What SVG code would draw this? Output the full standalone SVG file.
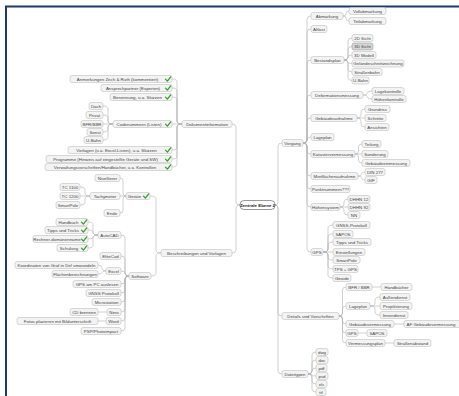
<svg xmlns="http://www.w3.org/2000/svg" xmlns:xlink="http://www.w3.org/1999/xlink" width="459" height="396" viewBox="0 0 459 396">
<style>
rect{fill:#f3f3f3;stroke:#b4b4b4;stroke-width:.5}
rect.hl{fill:#d6d6d6;stroke:#8a8a8a}
rect.c{fill:#fff;stroke:#6e6e6e;stroke-width:.7}
text{font-family:"Liberation Sans",Arial,sans-serif;font-size:4.4px;fill:#444;text-anchor:middle}
text.c{font-weight:bold;fill:#222}
#links path{fill:none;stroke:#b2b2b2;stroke-width:.6}
</style>
<defs>
<path id="ck" d="M0,2.6 L1.9,4.6 L5.2,0.4" fill="none" stroke="#3d9b2f" stroke-width="1.3" stroke-linecap="round" stroke-linejoin="round"/>
</defs>
<rect x="0" y="0" width="459" height="396" style="fill:#fff;stroke:none"/>
<g id="frame"><path d="M5,6.5 H459 M6,5.5 V396" stroke="#1f3a68" stroke-width="2" fill="none"/></g>
<g id="links">
<path d="M240,205 Q236,205 236,202 V127 Q236,124 232,124 M240,205 Q236,205 236,208 V250 Q236,253 232,253"/>
<path d="M275,205 Q278,205 278,202 V146 Q278,143 282,143 M275,205 Q278,205 278,208 V313 Q278,316 282,316 M275,205 Q278,205 278,208 V371 Q278,374 282,374"/>
<path d="M182,124 Q177,124 177,121 V82 Q177,79 172,79 M182,124 Q177,124 177,121 V91 Q177,88 172,88 M182,124 Q177,124 177,121 V100 Q177,97 172,97 M182,124 H172 M182,124 Q177,124 177,127 V147 Q177,150 172,150 M182,124 Q177,124 177,127 V156 Q177,159 172,159 M182,124 Q177,124 177,127 V164 Q177,167 172,167"/>
<path d="M113,124 Q108,124 108,121 V109 Q108,106 103,106 M113,124 Q108,124 108,121 V118 Q108,115 103,115 M113,124 H103 M113,124 Q108,124 108,127 V129 Q108,132 103,132 M113,124 Q108,124 108,127 V137 Q108,140 103,140"/>
<path d="M161,253 Q156,253 156,250 V199 Q156,196 150,196 M161,253 Q156,253 156,256 V273 Q156,276 151,276"/>
<path d="M126,196 Q123,196 123,193 V181 Q123,178 120,178 M126,196 H120 M126,196 Q123,196 123,199 V210 Q123,213 120,213"/>
<path d="M90,196 Q85,196 85,193 V190 Q85,187 80,187 M90,196 H80 M90,196 Q85,196 85,199 V202 Q85,205 80,205"/>
<path d="M129,276 Q125,276 125,273 V238 Q125,235 121,235 M129,276 Q125,276 125,273 V259 Q125,256 121,256 M129,276 Q125,276 125,273.5 Q125,271 121,271 M129,276 Q125,276 125,279 V281 Q125,284 121,284 M129,276 Q125,276 125,279 V290 Q125,293 121,293 M129,276 Q125,276 125,279 V299 Q125,302 121,302 M129,276 Q125,276 125,279 V309 Q125,312 121,312 M129,276 Q125,276 125,279 V318 Q125,321 121,321 M129,276 Q125,276 125,279 V328 Q125,331 121,331"/>
<path d="M98,235 Q93,235 93,232 V225 Q93,222 88,222 M98,235 Q93,235 93,232.5 Q93,230 88,230 M98,235 Q93,235 93,237 Q93,239 88,239 M98,235 Q93,235 93,238 V245 Q93,248 88,248"/>
<path d="M106,271 Q102,271 102,268 Q102,265 98,265 M106,271 Q102,271 102,272.5 Q102,274 98,274 M107,312 H98 M106,321 H98"/>
<path d="M303,143 Q307,143 307,140 V19 Q307,16 311,16 M303,143 Q307,143 307,140 V32 Q307,29 311,29 M303,143 Q307,143 307,140 V63 Q307,60 311,60 M303,143 Q307,143 307,140 V98 Q307,95 311,95 M303,143 Q307,143 307,140 V121 Q307,118 311,118 M303,143 Q307,143 307,140 Q307,137 311,137 M303,143 Q307,143 307,146 V151 Q307,154 311,154 M303,143 Q307,143 307,146 V173 Q307,176 311,176 M303,143 Q307,143 307,146 V186 Q307,189 311,189 M303,143 Q307,143 307,146 V204 Q307,207 311,207 M303,143 Q307,143 307,146 V249 Q307,252 311,252"/>
<path d="M343,16 Q346,16 346,13.5 Q346,11 349,11 M343,16 Q346,16 346,18.5 Q346,21 349,21"/>
<path d="M344,60 Q348,60 348,57 V41 Q348,38 352,38 M344,60 Q348,60 348,57 V49.5 Q348,46.5 352,46.5 M344,60 Q348,60 348,57.5 Q348,55 352,55 M344,60 Q348,60 348,62 Q348,63.5 352,63.5 M344,60 Q348,60 348,63 V69 Q348,72 352,72 M344,60 Q348,60 348,63 V77.5 Q348,80.5 352,80.5"/>
<path d="M363,95 Q367.5,95 367.5,93 Q367.5,91 372,91 M363,95 Q367.5,95 367.5,97 Q367.5,99 372,99"/>
<path d="M357,118 Q361,118 361,115 V112 Q361,109 365,109 M357,118 H365 M357,118 Q361,118 361,121 V124 Q361,127 365,127"/>
<path d="M355,154 Q358.5,154 358.5,151 V147 Q358.5,144 362,144 M355,154 H362 M355,154 Q358.5,154 358.5,157 V160 Q358.5,163 362,163"/>
<path d="M358,176 Q361.5,176 361.5,174 Q361.5,172 365,172 M358,176 Q361.5,176 361.5,178 Q361.5,180 365,180"/>
<path d="M340,207 Q344,207 344,204 V202 Q344,199 348,199 M340,207 H348 M340,207 Q344,207 344,210 V212 Q344,215 348,215"/>
<path d="M323,252 Q328,252 328,249 V228 Q328,225 333,225 M323,252 Q328,252 328,249 V237 Q328,234 333,234 M323,252 Q328,252 328,249 V245 Q328,242 333,242 M323,252 H333 M323,252 Q328,252 328,255 V257 Q328,260 333,260 M323,252 Q328,252 328,255 V266 Q328,269 333,269 M323,252 Q328,252 328,255 V275 Q328,278 333,278"/>
<path d="M339,316 Q342.5,316 342.5,313 V290 Q342.5,287 346,287 M339,316 Q342.5,316 342.5,313 V309 Q342.5,306 346,306 M339,316 Q342.5,316 342.5,319 V321 Q342.5,324 346,324 M339,316 Q342.5,316 342.5,319 V330 Q342.5,333 346,333 M339,316 Q342.5,316 342.5,319 V340 Q342.5,343 346,343"/>
<path d="M370,306 Q375,306 375,303 V300 Q375,297 380,297 M370,306 H380 M370,306 Q375,306 375,309 V312 Q375,315 380,315"/>
<path d="M372,287 H381 M394,324 H404 M358,333 H367 M385,343 H394"/>
<path d="M308,374 Q312,374 312,371 V355 Q312,352 316,352 M308,374 Q312,374 312,371 V363 Q312,360 316,360 M308,374 Q312,374 312,371 Q312,368 316,368 M308,374 Q312,374 312,375 Q312,376 316,376 M308,374 Q312,374 312,377 V381 Q312,384 316,384 M308,374 Q312,374 312,377 V389 Q312,392 316,392"/>
</g>
<g id="center"><rect class="c" x="240" y="200.5" width="35" height="9" rx="4"/><text class="c" x="257.5" y="206.6">Zentrale Ebene 2</text></g>
<g id="dokinfo"><rect x="182" y="120.5" width="50" height="7" rx="2"/><text x="207" y="125.6">Dokumentinformation</text></g>
<g id="beschreibungen"><rect x="161" y="249.5" width="71" height="7" rx="2"/><text x="196.5" y="254.6">Beschreibungen und Vorlagen</text></g>
<g id="d1"><rect x="70" y="75.5" width="102" height="7" rx="2"/><text x="117.5" y="80.6">Anmerkungen Zech &amp; Ruth (kommentiert)</text><use xlink:href="#ck" x="165.5" y="76.5"/></g>
<g id="d2"><rect x="101" y="84.5" width="71" height="7" rx="2"/><text x="133" y="89.6">Ansprechpartner (Experten)</text><use xlink:href="#ck" x="165.5" y="85.5"/></g>
<g id="d3"><rect x="110" y="93.5" width="62" height="7" rx="2"/><text x="137.5" y="98.6">Benennung, u.a. Skizzen</text><use xlink:href="#ck" x="165.5" y="94.5"/></g>
<g id="d4"><rect x="113" y="120.5" width="59" height="7" rx="2"/><text x="139" y="125.6">Codenummern (Listen)</text><use xlink:href="#ck" x="165.5" y="121.5"/></g>
<g id="d5"><rect x="68" y="146.5" width="104" height="7" rx="2"/><text x="116.5" y="151.6">Vorlagen (u.a. Excel-Listen), u.a. Skizzen</text><use xlink:href="#ck" x="165.5" y="147.5"/></g>
<g id="d6"><rect x="46" y="155.5" width="126" height="7" rx="2"/><text x="105.5" y="160.6">Programme (Hinweis auf eingestellte Geräte und SW)</text><use xlink:href="#ck" x="165.5" y="156.5"/></g>
<g id="d7"><rect x="45" y="163.5" width="127" height="7" rx="2"/><text x="105" y="168.6">Verwaltungsvorschriften/Handbücher, u.a. Kontrollen</text><use xlink:href="#ck" x="165.5" y="164.5"/></g>
<g id="c-dach"><rect x="89" y="102.5" width="14" height="7" rx="2"/><text x="96" y="107.6">Dach</text></g>
<g id="c-privat"><rect x="86" y="111.5" width="17" height="7" rx="2"/><text x="94.5" y="116.6">Privat</text></g>
<g id="c-bfr"><rect x="81" y="120.5" width="22" height="7" rx="2"/><text x="92" y="125.6">BFR/BBR</text></g>
<g id="c-sonst"><rect x="87" y="128.5" width="16" height="7" rx="2"/><text x="95" y="133.6">Sonst</text></g>
<g id="c-ubahn"><rect x="84" y="136.5" width="19" height="7" rx="2"/><text x="93.5" y="141.6">U-Bahn</text></g>
<g id="geraete"><rect x="126" y="192.5" width="24" height="7" rx="2"/><text x="134.5" y="197.6">Geräte</text><use xlink:href="#ck" x="143.5" y="193.5"/></g>
<g id="nivellierer"><rect x="95" y="174.5" width="25" height="7" rx="2"/><text x="107.5" y="179.6">Nivellierer</text></g>
<g id="tachymeter"><rect x="90" y="192.5" width="30" height="7" rx="2"/><text x="105" y="197.6">Tachymeter</text></g>
<g id="ende"><rect x="104" y="209.5" width="16" height="7" rx="2"/><text x="112" y="214.6">Ende</text></g>
<g id="tc1100"><rect x="60" y="183.5" width="20" height="7" rx="2"/><text x="70" y="188.6">TC 1100</text></g>
<g id="tc1200"><rect x="60" y="192.5" width="20" height="7" rx="2"/><text x="70" y="197.6">TC 1200</text></g>
<g id="smartpole1"><rect x="56" y="201.5" width="24" height="7" rx="2"/><text x="68" y="206.6">SmartPole</text></g>
<g id="software"><rect x="129" y="272.5" width="22" height="7" rx="2"/><text x="140" y="277.6">Software</text></g>
<g id="autocad"><rect x="98" y="231.5" width="23" height="7" rx="2"/><text x="109.5" y="236.6">AutoCAD</text></g>
<g id="elitecad"><rect x="100" y="252.5" width="21" height="7" rx="2"/><text x="110.5" y="257.6">EliteCad</text></g>
<g id="excel"><rect x="106" y="267.5" width="15" height="7" rx="2"/><text x="113.5" y="272.6">Excel</text></g>
<g id="gpspc"><rect x="73" y="280.5" width="48" height="7" rx="2"/><text x="97" y="285.6">GPS am PC auslesen</text></g>
<g id="gnss1"><rect x="86" y="289.5" width="35" height="7" rx="2"/><text x="103.5" y="294.6">GNSS Protokoll</text></g>
<g id="microstation"><rect x="92" y="298.5" width="29" height="7" rx="2"/><text x="106.5" y="303.6">Microstation</text></g>
<g id="nero"><rect x="107" y="308.5" width="14" height="7" rx="2"/><text x="114" y="313.6">Nero</text></g>
<g id="word"><rect x="106" y="317.5" width="15" height="7" rx="2"/><text x="113.5" y="322.6">Word</text></g>
<g id="psp"><rect x="81" y="327.5" width="40" height="7" rx="2"/><text x="101" y="332.6">PSP/Photoimpact</text></g>
<g id="handbuch"><rect x="56" y="218.5" width="32" height="7" rx="2"/><text x="68.5" y="223.6">Handbuch</text><use xlink:href="#ck" x="81.5" y="219.5"/></g>
<g id="tipps1"><rect x="45" y="226.5" width="43" height="7" rx="2"/><text x="63" y="231.6">Tipps und Tricks</text><use xlink:href="#ck" x="81.5" y="227.5"/></g>
<g id="rechner"><rect x="33" y="235.5" width="55" height="7" rx="2"/><text x="57" y="240.6">Rechner-domänenname</text><use xlink:href="#ck" x="81.5" y="236.5"/></g>
<g id="schulung"><rect x="57" y="244.5" width="31" height="7" rx="2"/><text x="69" y="249.6">Schulung</text><use xlink:href="#ck" x="81.5" y="245.5"/></g>
<g id="koordinaten"><rect x="15" y="261.5" width="83" height="7" rx="2"/><text x="56.5" y="266.6">Koordinaten von Graf in Dxf umwandeln</text></g>
<g id="flaechen"><rect x="52" y="270.5" width="46" height="7" rx="2"/><text x="75" y="275.6">Flächenberechnungen</text></g>
<g id="cdbrennen"><rect x="70" y="308.5" width="28" height="7" rx="2"/><text x="84" y="313.6">CD brennen</text></g>
<g id="fotos"><rect x="17" y="317.5" width="81" height="7" rx="2"/><text x="57.5" y="322.6">Fotos plazieren mit Bildunterschrift</text></g>
<g id="vorgang"><rect x="282" y="139.5" width="21" height="7" rx="2"/><text x="292.5" y="144.6">Vorgang</text></g>
<g id="details"><rect x="282" y="312.5" width="57" height="7" rx="2"/><text x="310.5" y="317.6">Details und Vorschriften</text></g>
<g id="dateitypen"><rect x="282" y="370.5" width="26" height="7" rx="2"/><text x="295" y="375.6">Dateitypen</text></g>
<g id="abmarkung"><rect x="311" y="12.5" width="32" height="7" rx="2"/><text x="327" y="17.6">Abmarkung</text></g>
<g id="vollab"><rect x="349" y="7.5" width="37" height="7" rx="2"/><text x="367.5" y="12.6">Vollabmarkung</text></g>
<g id="teilab"><rect x="349" y="17.5" width="37" height="7" rx="2"/><text x="367.5" y="22.6">Teilabmarkung</text></g>
<g id="altlast"><rect x="311" y="25.5" width="16" height="7" rx="2"/><text x="319" y="30.6">Altlast</text></g>
<g id="bestandsplan"><rect x="311" y="56.5" width="33" height="7" rx="2"/><text x="327.5" y="61.6">Bestandsplan</text></g>
<g id="s2d"><rect x="352" y="34.5" width="21" height="7" rx="2"/><text x="362.5" y="39.6">2D Sicht</text></g>
<g id="s3d"><rect class="hl" x="352" y="43" width="21" height="7" rx="2"/><text x="362.5" y="48.1">3D Sicht</text></g>
<g id="m3d"><rect x="352" y="51.5" width="24" height="7" rx="2"/><text x="364" y="56.6">3D Modell</text></g>
<g id="gelaende"><rect x="352" y="60" width="52" height="7" rx="2"/><text x="378" y="65.1">Geländeschnittzeichnung</text></g>
<g id="strassenbahn"><rect x="352" y="68.5" width="30" height="7" rx="2"/><text x="367" y="73.6">Straßenbahn</text></g>
<g id="ubahn2"><rect x="352" y="77" width="17" height="7" rx="2"/><text x="360.5" y="82.1">U-Bahn</text></g>
<g id="deformation"><rect x="311" y="91.5" width="52" height="7" rx="2"/><text x="337" y="96.6">Deformationsmessung</text></g>
<g id="lagekontrolle"><rect x="372" y="87.5" width="32" height="7" rx="2"/><text x="388" y="92.6">Lagekontrolle</text></g>
<g id="hoehenkontrolle"><rect x="372" y="95.5" width="34" height="7" rx="2"/><text x="389" y="100.6">Höhenkontrolle</text></g>
<g id="gebaeudeaufnahme"><rect x="311" y="114.5" width="46" height="7" rx="2"/><text x="334" y="119.6">Gebäudeaufnahme</text></g>
<g id="grundriss"><rect x="365" y="105.5" width="25" height="7" rx="2"/><text x="377.5" y="110.6">Grundriss</text></g>
<g id="schnitte"><rect x="365" y="114.5" width="21" height="7" rx="2"/><text x="375.5" y="119.6">Schnitte</text></g>
<g id="ansichten"><rect x="365" y="123.5" width="24" height="7" rx="2"/><text x="377" y="128.6">Ansichten</text></g>
<g id="lageplan1"><rect x="311" y="133.5" width="23" height="7" rx="2"/><text x="322.5" y="138.6">Lageplan</text></g>
<g id="kataster"><rect x="311" y="150.5" width="44" height="7" rx="2"/><text x="333" y="155.6">Katastervermessung</text></g>
<g id="teilung"><rect x="362" y="140.5" width="19" height="7" rx="2"/><text x="371.5" y="145.6">Teilung</text></g>
<g id="sonderung"><rect x="362" y="150.5" width="26" height="7" rx="2"/><text x="375" y="155.6">Sonderung</text></g>
<g id="gebaeudeeinmessung"><rect x="362" y="159.5" width="48" height="7" rx="2"/><text x="386" y="164.6">Gebäudeeinmessung</text></g>
<g id="mietflaechen"><rect x="311" y="172.5" width="47" height="7" rx="2"/><text x="334.5" y="177.6">Mietflächenaufnahme</text></g>
<g id="din277"><rect x="365" y="168.5" width="20" height="7" rx="2"/><text x="375" y="173.6">DIN 277</text></g>
<g id="gif"><rect x="365" y="176.5" width="12" height="7" rx="2"/><text x="371" y="181.6">GIF</text></g>
<g id="punktnummern"><rect x="311" y="185.5" width="39" height="7" rx="2"/><text x="330.5" y="190.6">Punktnummern???</text></g>
<g id="hoehensystem"><rect x="311" y="203.5" width="29" height="7" rx="2"/><text x="325.5" y="208.6">Höhensystem</text></g>
<g id="dhhn12"><rect x="348" y="195.5" width="22" height="7" rx="2"/><text x="359" y="200.6">DHHN 12</text></g>
<g id="dhhn92"><rect x="348" y="203.5" width="22" height="7" rx="2"/><text x="359" y="208.6">DHHN 92</text></g>
<g id="nn"><rect x="348" y="211.5" width="12" height="7" rx="2"/><text x="354" y="216.6">NN</text></g>
<g id="gps1"><rect x="311" y="248.5" width="12" height="7" rx="2"/><text x="317" y="253.6">GPS</text></g>
<g id="gnss2"><rect x="333" y="221.5" width="37" height="7" rx="2"/><text x="351.5" y="226.6">GNSS-Protokoll</text></g>
<g id="sapos1"><rect x="333" y="230.5" width="20" height="7" rx="2"/><text x="343" y="235.6">SAPOS</text></g>
<g id="tipps2"><rect x="333" y="238.5" width="38" height="7" rx="2"/><text x="352" y="243.6">Tipps und Tricks</text></g>
<g id="einstellungen"><rect x="333" y="248.5" width="32" height="7" rx="2"/><text x="349" y="253.6">Einstellungen</text></g>
<g id="smartpole2"><rect x="333" y="256.5" width="27" height="7" rx="2"/><text x="346.5" y="261.6">SmartPole</text></g>
<g id="tpsgps"><rect x="333" y="265.5" width="25" height="7" rx="2"/><text x="345.5" y="270.6">TPS + GPS</text></g>
<g id="geoide"><rect x="333" y="274.5" width="18" height="7" rx="2"/><text x="342" y="279.6">Geoide</text></g>
<g id="bfrbbr"><rect x="346" y="283.5" width="26" height="7" rx="2"/><text x="359" y="288.6">BFR / BBR</text></g>
<g id="handbuecher"><rect x="381" y="283.5" width="31" height="7" rx="2"/><text x="396.5" y="288.6">Handbücher</text></g>
<g id="lageplan2"><rect x="346" y="302.5" width="24" height="7" rx="2"/><text x="358" y="307.6">Lageplan</text></g>
<g id="aussendienst"><rect x="380" y="293.5" width="30" height="7" rx="2"/><text x="395" y="298.6">Außendienst</text></g>
<g id="projektierung"><rect x="380" y="302.5" width="32" height="7" rx="2"/><text x="396" y="307.6">Projektierung</text></g>
<g id="innendienst"><rect x="380" y="311.5" width="28" height="7" rx="2"/><text x="394" y="316.6">Innendienst</text></g>
<g id="gebaeudevermessung"><rect x="346" y="320.5" width="48" height="7" rx="2"/><text x="370" y="325.6">Gebäudevermessung</text></g>
<g id="afgebaeude"><rect x="404" y="320.5" width="60" height="7" rx="2"/><text x="431" y="325.6">AF Gebäudevermessung</text></g>
<g id="gps2"><rect x="346" y="329.5" width="12" height="7" rx="2"/><text x="352" y="334.6">GPS</text></g>
<g id="sapos2"><rect x="367" y="329.5" width="20" height="7" rx="2"/><text x="377" y="334.6">SAPOS</text></g>
<g id="vermessungsplan"><rect x="346" y="339.5" width="39" height="7" rx="2"/><text x="365.5" y="344.6">Vermessungsplan</text></g>
<g id="strassenabstand"><rect x="394" y="339.5" width="37" height="7" rx="2"/><text x="412.5" y="344.6">Straßenabstand</text></g>
<g id="dwg"><rect x="316" y="348.5" width="12" height="7" rx="2"/><text x="322" y="353.6">dwg</text></g>
<g id="doc"><rect x="316" y="356.5" width="12" height="7" rx="2"/><text x="322" y="361.6">doc</text></g>
<g id="pdf"><rect x="316" y="364.5" width="11" height="7" rx="2"/><text x="321.5" y="369.6">pdf</text></g>
<g id="psd"><rect x="316" y="372.5" width="12" height="7" rx="2"/><text x="322" y="377.6">psd</text></g>
<g id="xls"><rect x="316" y="380.5" width="11" height="7" rx="2"/><text x="321.5" y="385.6">xls</text></g>
<g id="tif"><rect x="316" y="388.5" width="10" height="7" rx="2"/><text x="321" y="393.6">tif</text></g>
</svg>
